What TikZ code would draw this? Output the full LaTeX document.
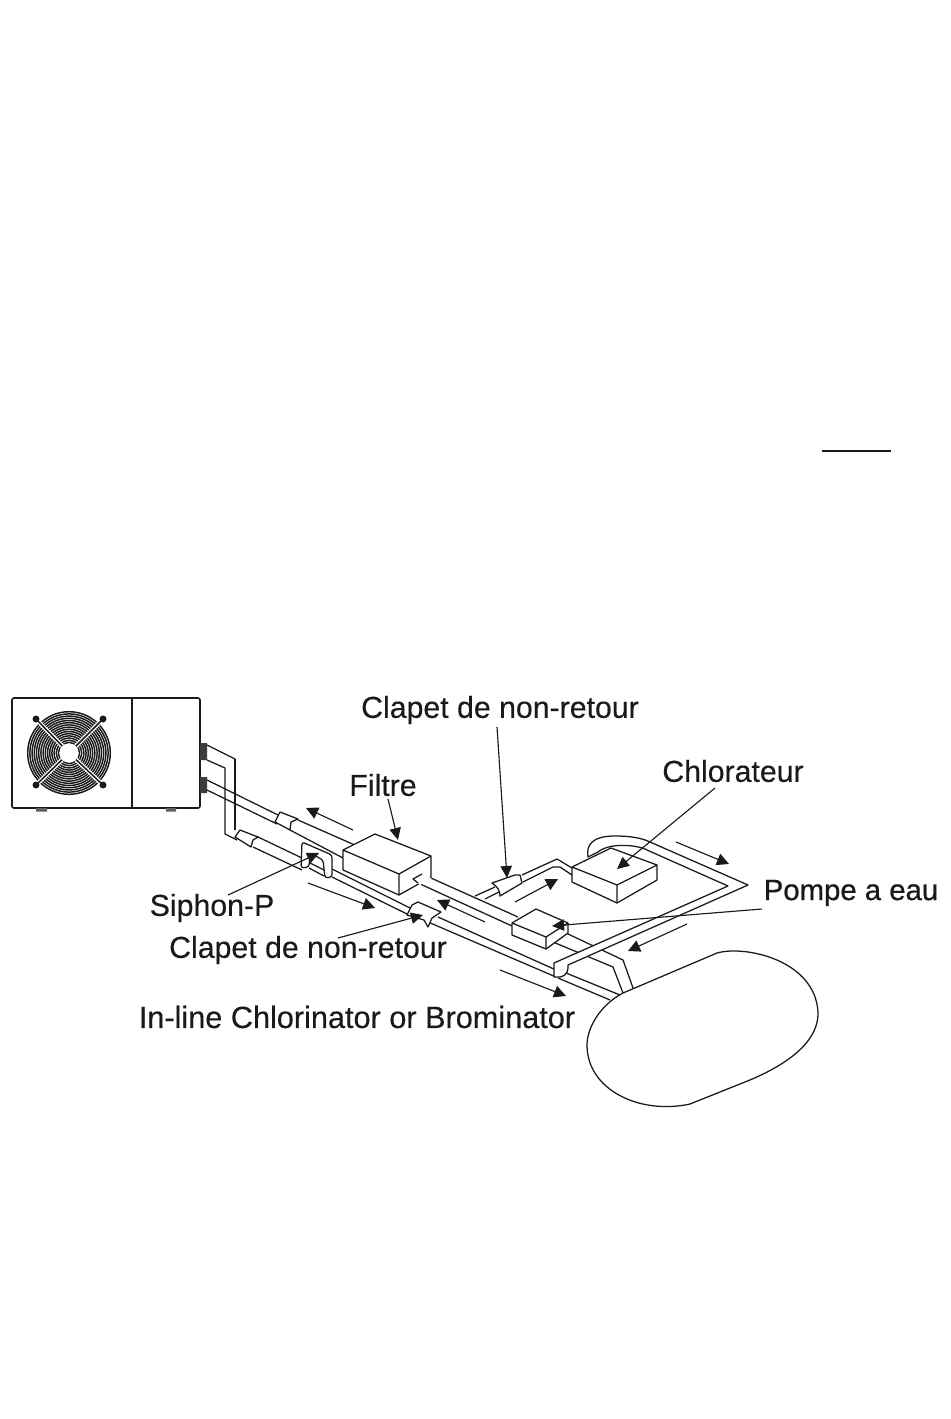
\documentclass[tikz,border=0pt]{standalone}
\usepackage{fontspec}
\setmainfont{Liberation Sans}[FakeBold=0.25]
\newfontfamily\pompefont{Liberation Sans}[FakeBold=0.7]
\usetikzlibrary{arrows.meta}
\definecolor{ink}{HTML}{1A1A1A}
\tikzset{
  ln/.style={draw=ink,line width=0.95pt,line join=round},
  box/.style={ln,fill=white},
  lead/.style={draw=ink,line width=0.85pt,-{Triangle[length=9pt,width=8.5pt]}},
  flow/.style={draw=ink,line width=0.85pt,-{Triangle[length=9pt,width=9pt]}},
  lab/.style={font=\fontsize{22.7pt}{24pt}\selectfont,text=ink,inner sep=0pt,anchor=center},
}
\begin{document}
\begin{tikzpicture}[x=0.75pt,y=-0.75pt]
\useasboundingbox (0,0) rectangle (950,1419);
\fill[white] (0,0) rectangle (950,1419);

% rule
\draw[ink,line width=1.5pt] (822,451) -- (891,451);

% heat pump
\draw[ln,line width=1.2pt,rounded corners=1.5pt] (12,698) rectangle (200,808);
\draw[ln,line width=1.2pt] (132,698) -- (132,808);
\fill[ink!70] (36,808) rectangle (47,811.5) (166,808) rectangle (176,811.5);
\foreach \r in {10.5,12.7,...,42.5} {\draw[ink,line width=1.1pt] (69,753) circle[radius=\r];}
\foreach \a/\b in {36/719,103/719,36/785,103/785} {
  \draw[white,line width=3pt] (\a,\b) -- (69,753);
  \draw[ink,line width=1.1pt] (\a,\b) -- (69,753);
  \fill[ink] (\a,\b) circle[radius=3.5];
}
\fill[white] (69,753) circle[radius=9.5];
\fill[ink!85] (200,743) rectangle (207,760) (200,777) rectangle (207,793);

% pipes from unit
\draw[ln] (207,745) -- (235,759) -- (235,830);
\draw[ink,line width=1.5pt] (235,759) -- (235,830);
\draw[ln] (207,760) -- (225,768) -- (225,834) -- (237,840);
\draw[ln] (207,780) -- (278,815);
\draw[ln] (207,790) -- (277,824);
\draw[ln] (298,820) -- (357,846);
\draw[ln] (290,830) -- (343,858);
\draw[ln] (253,847) -- (302,870);
\draw[ln] (258,837) -- (302,858);
\draw[ln] (332,869) -- (410,908);
\draw[ln] (332,877) -- (407,914);
\draw[ln] (438,917) -- (556,970);
\draw[ln] (428,922) -- (556,977);
\draw[ln] (566,973) -- (620,995);
\draw[ln] (558,978) -- (610,1000);
% filter to pump
\draw[ln] (422,874) -- (518,917);
\draw[ln] (418,883) -- (512,926);
% pump to pool
\draw[ln] (566,933) -- (623,960) -- (633,988);
\draw[ln] (553,942) -- (613,967) -- (623,993);

% collars
\draw[box] (235,837) -- (240,830) -- (258,837) -- (253,840) -- (251,847) -- cycle;
\draw[box] (275,822) -- (280,812) -- (298,819) -- (291,822) -- (290,830) -- cycle;
\draw[box] (407,915) -- (412,905) -- (418,902) -- (441,912) -- (432,918) -- (428,927) -- (424,920) -- cycle;

% siphon
\draw[box,rounded corners=2pt] (301,868) -- (302,842) -- (332,855) -- (332,877) -- (325,878) -- (323,860) -- (310,853) -- (309,867) -- cycle;
\draw[ln] (310,863) -- (324,870) (309,868) -- (324,876);

% filter
\draw[box] (343,850) -- (375,834) -- (431,856) -- (431,877) -- (399,895) -- (343,870) -- cycle;
\draw[ln] (343,850) -- (399,874) -- (431,856) (399,874) -- (399,895);
\fill[white] (413,879) -- (422,874) -- (431,878) -- (431,879) -- (420,885) -- cycle;
\draw[ln] (422,874) -- (413,879) -- (418,883);

% pump
\draw[box] (512,923) -- (536,909) -- (568,923) -- (568,933) -- (546,949) -- (512,935) -- cycle;
\draw[ln] (512,923) -- (546,937) -- (568,923) (546,937) -- (546,949);

% loop to chlorinator
\draw[box] (554,977) -- (554,963) -- (728,886) -- (647,850) .. controls (638,845) and (610,842) .. (598,852) -- (588,857) .. controls (586,845) and (592,836) .. (615,836) .. controls (630,836) and (642,838) .. (650,842) -- (748,885) -- (568,965) .. controls (568,970) and (568,975) .. (560,977) -- cycle;

% chlorinator
\draw[box] (572,867) -- (611,848) -- (657,865) -- (657,880) -- (617,903) -- (572,882) -- cycle;
\draw[ln] (572,867) -- (617,885) -- (657,865) (617,885) -- (617,903);

% check-valve branch
\draw[ln] (475,896) -- (495,887);
\draw[ln] (485,899) -- (499,892);
\draw[ln] (522,875) -- (557,859) -- (572,868);
\draw[ln] (523,882) -- (553,867) -- (560,867) -- (572,875);
\draw[box] (492,883) -- (515,875) -- (520,875) -- (522,883) -- (500,896) .. controls (500,891) and (498,887) .. (492,883) -- cycle;

% pool
\draw[ln] (587,1045) .. controls (587,1028) and (600,1005) .. (623,993) -- (717,953) .. controls (745,945) and (815,960) .. (818,1012) .. controls (819,1045) and (780,1068) .. (745,1082) -- (690,1104) .. controls (640,1115) and (587,1090) .. (587,1045) -- cycle;

% flow arrows
\coordinate (fa1) at (353,830); \coordinate (fb1) at (306,808);
\coordinate (fa2) at (308,883); \coordinate (fb2) at (375,908);
\coordinate (fa3) at (485,922); \coordinate (fb3) at (437,900);
\coordinate (fa4) at (500,970); \coordinate (fb4) at (566,996);
\coordinate (fa5) at (515,902); \coordinate (fb5) at (558,879);
\coordinate (fa6) at (676,842); \coordinate (fb6) at (729,864);
\coordinate (fa7) at (687,924); \coordinate (fb7) at (628,951);
\foreach \i in {1,...,7} {\draw[flow] (fa\i) -- (fb\i);}

% labels
\node[lab] (cl1) at (500,710) {Clapet de non-retour};
\node[lab] (fi) at (383,785) {Filtre};
\node[lab] (ch) at (733,771) {Chlorateur};
\node[lab] (si) at (212,908) {Siphon-P};
\node[lab] (cl2) at (308,950) {Clapet de non-retour};
\node[lab,font=\fontsize{22pt}{24pt}\selectfont\pompefont] (po) at (851,893) {Pompe a eau};
\node[lab,font=\fontsize{23pt}{24pt}\selectfont] (in) at (357,1017) {In-line Chlorinator or Brominator};

% leaders
\coordinate (t1) at (507,878);
\coordinate (t2) at (398,840);
\coordinate (t3) at (617,869);
\coordinate (t4) at (552,926);
\coordinate (t5) at (319,853);
\coordinate (t6) at (423,915);
\coordinate (s1) at (497,727);
\coordinate (s2) at (388,799);
\coordinate (s3) at (715,788);
\coordinate (s4) at (762,909);
\coordinate (s5) at (228,895);
\coordinate (s6) at (338,938);
\foreach \i in {1,...,6} {\draw[lead] (s\i) -- (t\i);}
\end{tikzpicture}
\end{document}
